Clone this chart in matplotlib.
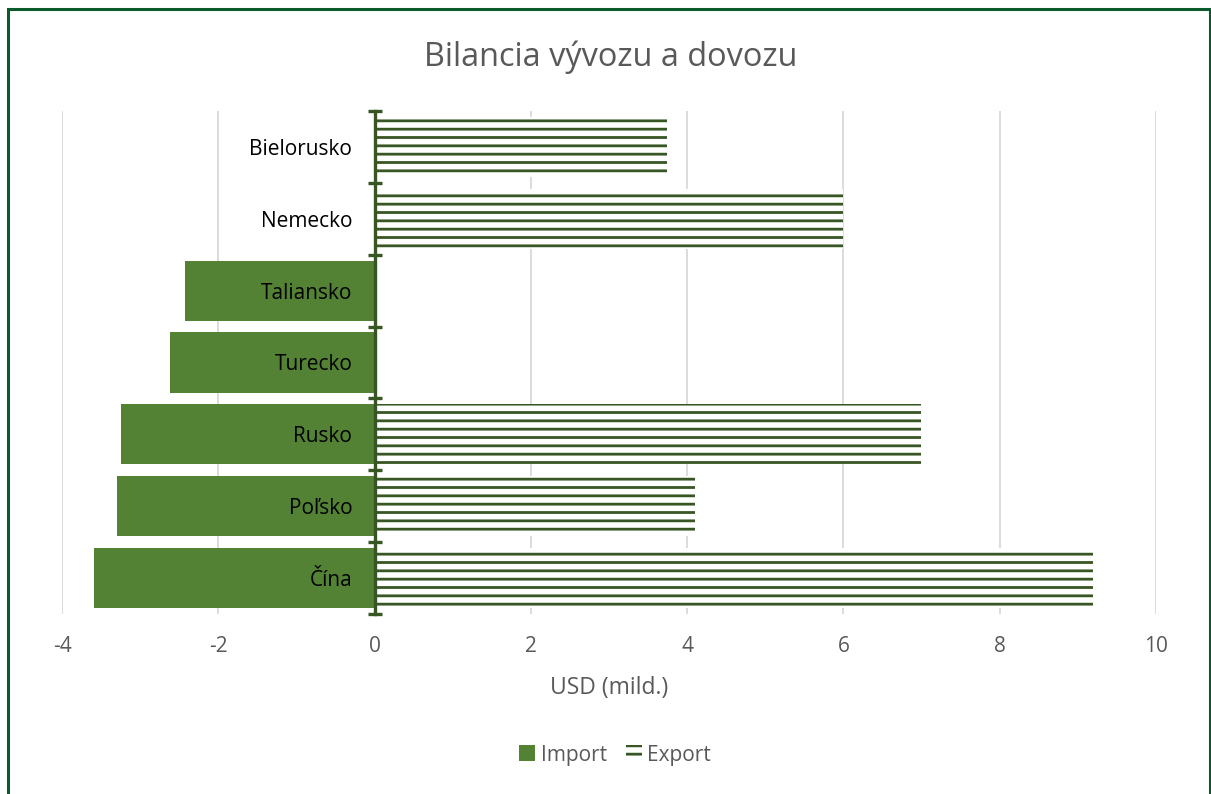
import matplotlib
matplotlib.use("Agg")
import matplotlib.pyplot as plt
import matplotlib.patches as mpatches
import numpy as np

categories = ["Bielorusko", "Nemecko", "Taliansko", "Turecko", "Rusko", "Poľsko", "Čína"]
import_vals = [0, 0, -2.42, -2.62, -3.24, -3.30, -3.59]
export_vals = [3.74, 6.0, 0, 0, 6.99, 4.10, 9.19]
x_ticks = [-4, -2, 0, 2, 4, 6, 8, 10]

GREEN = "#548235"
DARK = "#375623"
BORDER = "#0b5a2c"
GREY = "#595959"

plt.rcParams['font.family'] = ['Open Sans', 'DejaVu Sans']
plt.rcParams['hatch.linewidth'] = 2.0

fig = plt.figure(figsize=(12.11, 7.94), dpi=100)
ax = fig.add_axes([62/1211, 1-614/794, (1156-62)/1211, (614-111)/794])

n = len(categories)
ypos = np.arange(n)[::-1]  # top category first

ax.barh(ypos, import_vals, height=0.835, color=GREEN, zorder=1)
ax.barh(ypos, export_vals, height=0.835, facecolor="white", edgecolor=DARK,
        hatch="--", linewidth=0, zorder=1)

ax.set_xlim(-4, 10)
ax.set_ylim(-0.5, n-0.5)

for xv in x_ticks:
    if xv != 0:
        ax.axvline(xv, color="#d9d9d9", lw=1.3, zorder=0)

ax.set_xticks(x_ticks)
ax.set_xticklabels([str(v) for v in x_ticks])
ax.tick_params(axis='x', length=0, pad=16, labelsize=15, labelcolor=GREY)

ax.spines['left'].set_position(('data', 0))
ax.spines['left'].set_color(DARK)
ax.spines['left'].set_linewidth(2.4)
for s in ['top', 'right', 'bottom']:
    ax.spines[s].set_visible(False)

ax.set_yticks(ypos)
ax.set_yticklabels(categories)
ax.tick_params(axis='y', which='major', length=0, pad=16, labelsize=15, labelcolor="black")
ax.set_yticks(np.arange(n+1) - 0.5, minor=True)
ax.tick_params(axis='y', which='minor', direction='inout', length=10, width=2.4, color=DARK)
ax.set_axisbelow(False)

ax.set_xlabel("USD (mild.)", fontsize=16.5, color=GREY, labelpad=13.5)
fig.text(611/1211, 1-57/794, "Bilancia vývozu a dovozu", ha="center", va="center",
         fontsize=23.4, color=GREY)

h1 = mpatches.Patch(facecolor=GREEN, label="Import")
h2 = mpatches.Patch(facecolor="white", edgecolor=DARK, hatch="--", linewidth=0, label="Export")
fig.legend(handles=[h1, h2], loc="center", bbox_to_anchor=(615/1211, 1-755/794), ncol=2,
           frameon=False, fontsize=15, handlelength=0.8, handleheight=0.8,
           handletextpad=0.25, columnspacing=0.9, labelcolor=GREY)

border = mpatches.Rectangle((7.5/1211, -0.05), (1209.5-7.5)/1211, 1.05 - 8.5/794,
                            transform=fig.transFigure, fill=False, edgecolor=BORDER,
                            linewidth=2.2, clip_on=False)
fig.patches.append(border)

fig.savefig("out.png", dpi=100)
